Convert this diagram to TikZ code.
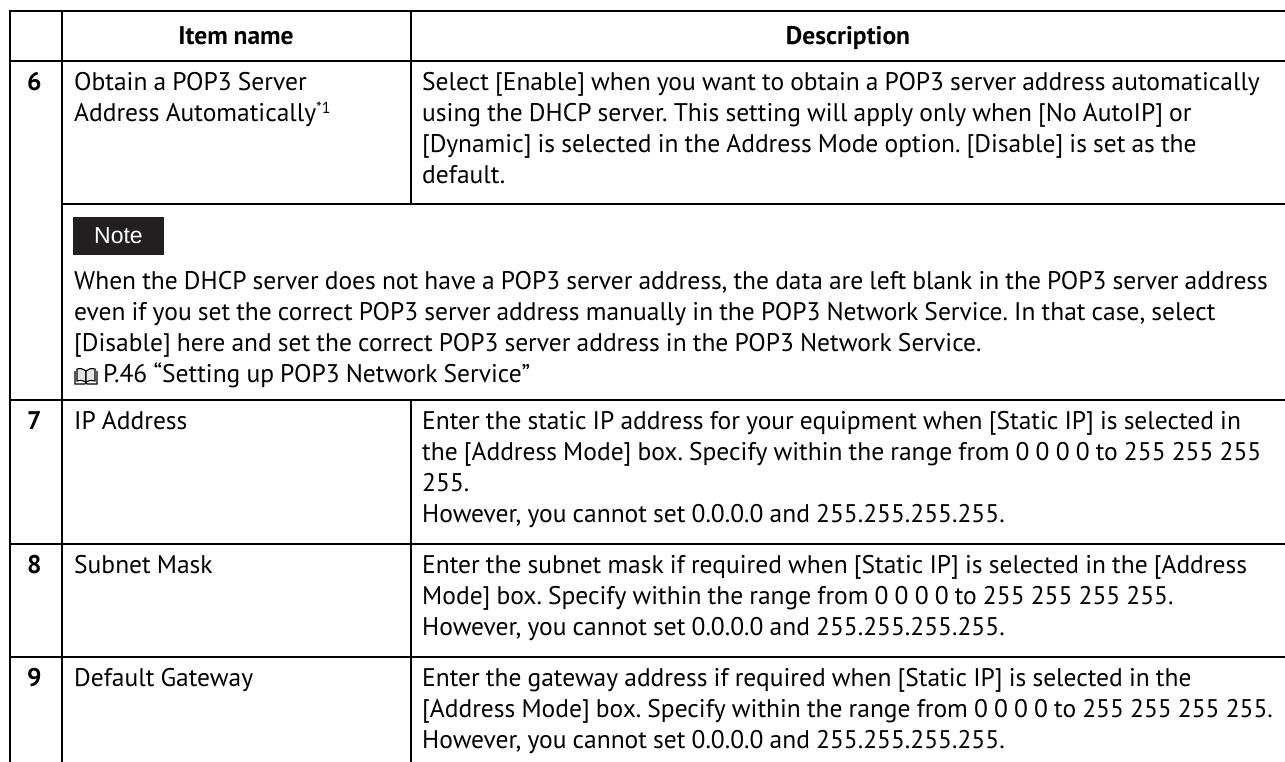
\documentclass[tikz,border=0pt]{standalone}
\usepackage{fontspec}
\setmainfont[WordSpace=0.9]{PT Sans}
\newfontfamily\notefont{Liberation Sans}
\usetikzlibrary{positioning}
\definecolor{notegray}{RGB}{35,31,32}
\newcommand{\bodysize}{\fontsize{25.5pt}{31pt}\selectfont}
\newcommand{\topstrut}{\rule{0pt}{22pt}}
\newcommand{\supmark}[1]{\raisebox{8pt}{\fontsize{16pt}{16pt}\selectfont #1}}
\frenchspacing
\tikzset{
    x=1pt, y=-1pt, % one unit is one pixel, y runs downwards
    heavyline/.style={line width=2pt}, % outer frame and header rules
    thinline/.style={line width=1.2pt}, % the other rules
    celltext/.style={anchor=north west, inner sep=0pt, align=left, font=\bodysize},
    headtext/.style={anchor=base, inner sep=0pt, font=\bodysize\bfseries},
    numtext/.style={anchor=north west, inner sep=0pt, font=\bodysize\bfseries},
    notebox/.style={fill=notegray, text=white, minimum width=91pt, minimum height=38pt, inner sep=0pt, font=\notefont\fontsize{23pt}{27pt}\selectfont},
    }
\begin{document}
\begin{tikzpicture}
\useasboundingbox (0,0) rectangle (1285,762);

% rules of the table
\draw[heavyline] (9,11) -- (1285,11);
\draw[heavyline] (9,61) -- (1285,61);
\draw[heavyline] (10,10) -- (10,762);
\draw[thinline] (62,11) -- (62,762);
\draw[thinline] (411,11) -- (411,204);
\draw[thinline] (411,400) -- (411,762);
\draw[thinline] (62,204) -- (1285,204);
\foreach \y in {400,544,657}
    \draw[thinline] (10,\y) -- (1285,\y);

% header
\node[headtext] (hitem) at (236,45) {Item name};
\node[headtext] (hdesc) at (848,45) {Description};

% row 6 and its note
\node[numtext] (n6) at (27,68) {\topstrut 6};
\node[celltext] (i6) at (74,68) {\topstrut Obtain a POP3 Server\\Address Automatically\supmark{*1}};
\node[celltext] (d6) at (422,68) {\topstrut Select [Enable] when you want to obtain a POP3 server address automatically\\
using the DHCP server. This setting will apply only when [No AutoIP] or\\
{}[Dynamic] is selected in the Address Mode option. [Disable] is set as the\\
default.};
\node[notebox] (note) at (118.5,236) {Note};
\node[celltext] (t6) at (74,267) {\topstrut When the DHCP server does not have a POP3 server address, the data are left blank in the POP3 server address\\
even if you set the correct POP3 server address manually in the POP3 Network Service. In that case, select\\
{}[Disable] here and set the correct POP3 server address in the POP3 Network Service.\\
\hspace*{29pt}P.46 “Setting up POP3 Network Service”};
% book mark before the reference
\draw[line width=1.1pt, fill=white] (75,371) -- (75,384) -- (85,384) -- (86,382.5) -- (87,384) -- (97,384) -- (97,371);
\draw[line width=1.1pt, fill=gray!20] (77,369) .. controls (81,368) and (84,369) .. (86,371) -- (86,382) .. controls (84,380.5) and (81,380) .. (77,381) -- cycle;
\draw[line width=1.1pt, fill=gray!20] (95,369) .. controls (91,368) and (88,369) .. (86,371) -- (86,382) .. controls (88,380.5) and (91,380) .. (95,381) -- cycle;

% row 7
\node[numtext] (n7) at (27,407) {\topstrut 7};
\node[celltext] (i7) at (74,407) {\topstrut IP Address};
\node[celltext] (d7) at (422,407) {\topstrut Enter the static IP address for your equipment when [Static IP] is selected in\\
the [Address Mode] box. Specify within the range from 0 0 0 0 to 255 255 255\\
255.\\
However, you cannot set 0.0.0.0 and 255.255.255.255.};

% row 8
\node[numtext] (n8) at (27,551) {\topstrut 8};
\node[celltext] (i8) at (74,551) {\topstrut Subnet Mask};
\node[celltext] (d8) at (422,551) {\topstrut Enter the subnet mask if required when [Static IP] is selected in the [Address\\
Mode] box. Specify within the range from 0 0 0 0 to 255 255 255 255.\\
However, you cannot set 0.0.0.0 and 255.255.255.255.};

% row 9
\node[numtext] (n9) at (27,664) {\topstrut 9};
\node[celltext] (i9) at (74,664) {\topstrut Default Gateway};
\node[celltext] (d9) at (422,664) {\topstrut Enter the gateway address if required when [Static IP] is selected in the\\
{}[Address Mode] box. Specify within the range from 0 0 0 0 to 255 255 255 255.\\
However, you cannot set 0.0.0.0 and 255.255.255.255.};
\end{tikzpicture}
\end{document}
